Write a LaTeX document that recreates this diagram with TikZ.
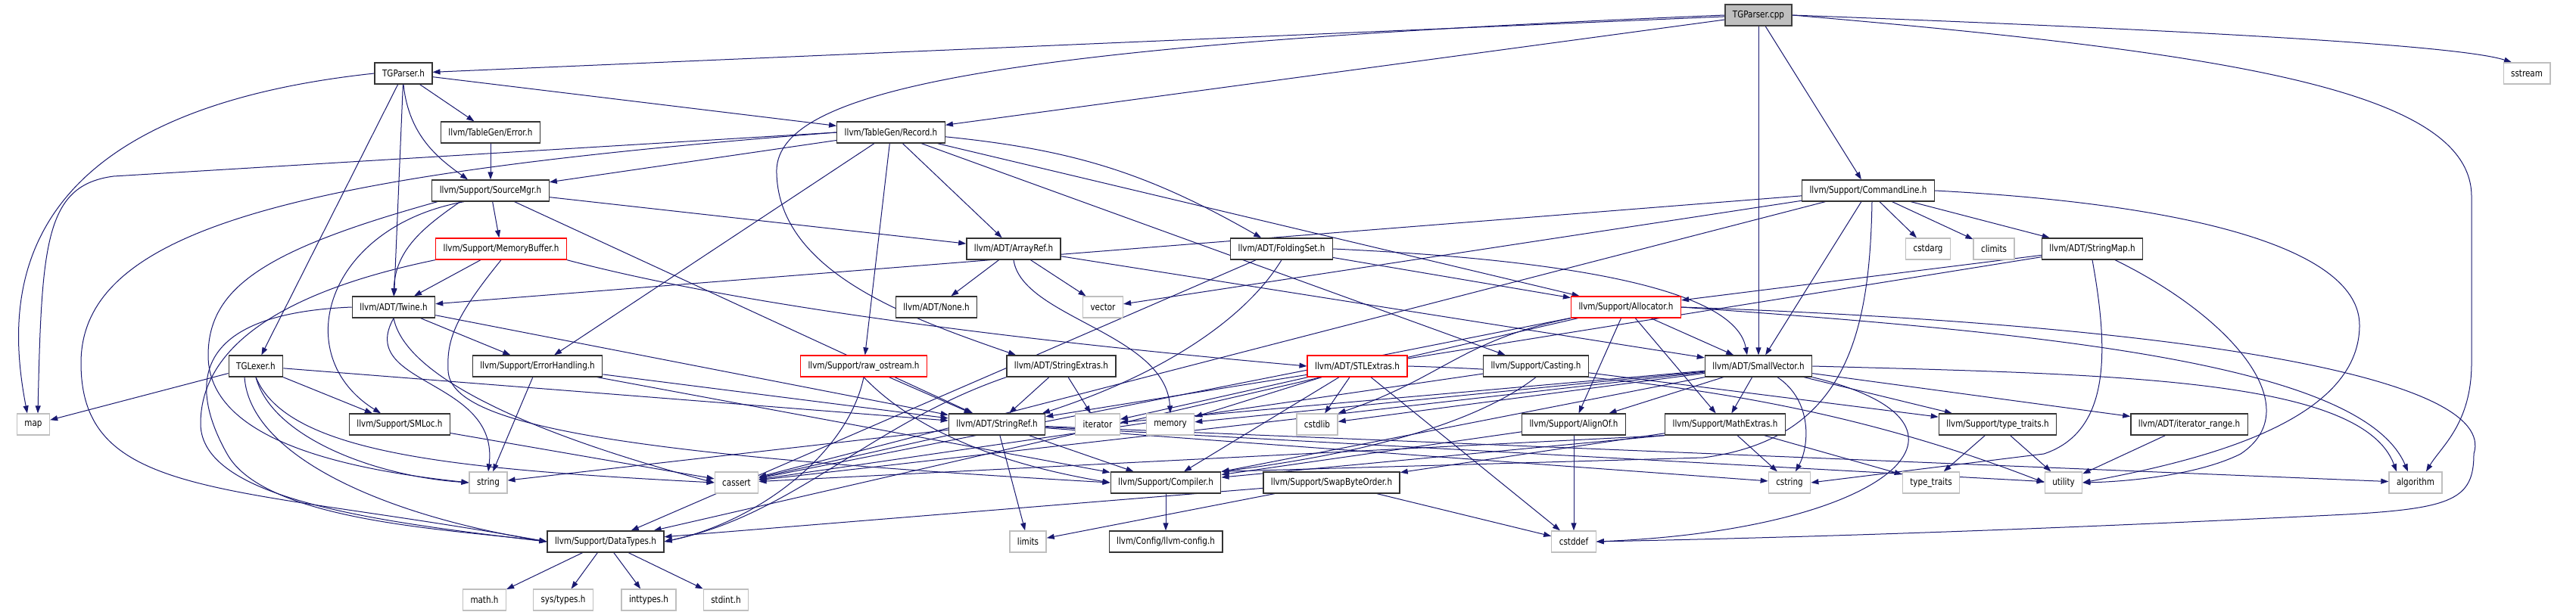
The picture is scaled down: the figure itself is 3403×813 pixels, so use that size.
\documentclass[tikz,border=0pt]{standalone}
\usepackage{fontspec}
\setmainfont{DejaVu Sans}[FakeStretch=0.83]
\usetikzlibrary{arrows.meta, backgrounds}
\definecolor{edge}{HTML}{191970}
\definecolor{sysframe}{HTML}{BFBFBF}
\definecolor{rootfill}{HTML}{BFBFBF}

\begin{document}
\begin{tikzpicture}[x=1pt, y=-1pt,
    every node/.style={font=\fontsize{12.5}{15}\selectfont, fill=white, inner xsep=10pt, inner ysep=0pt, minimum height=28pt, line width=1.3pt},
    hdr/.style={draw=black!80},
    sys/.style={draw=sysframe},
    trunc/.style={draw=red},
    root/.style={draw=black!75, fill=rootfill},
    dep/.style={-{Triangle[length=10pt, width=7pt]}, color=edge, line width=1pt}]
  % nodes, row by row
  \node[root] (cpp) at (2323,20) {TGParser.cpp};
  \node[hdr] (tgph) at (533,97) {TGParser.h};
  \node[sys] (sstream) at (3338,97) {sstream};
  \node[hdr] (err) at (648,175) {llvm/TableGen/Error.h};
  \node[hdr] (rec) at (1177,175) {llvm/TableGen/Record.h};
  \node[hdr] (smgr) at (648,252) {llvm/Support/SourceMgr.h};
  \node[hdr] (cl) at (2468,252) {llvm/Support/CommandLine.h};
  \node[trunc] (mbuf) at (662,329) {llvm/Support/MemoryBuffer.h};
  \node[hdr] (aref) at (1339,329) {llvm/ADT/ArrayRef.h};
  \node[hdr] (fset) at (1693,329) {llvm/ADT/FoldingSet.h};
  \node[sys] (cstdarg) at (2547,329) {cstdarg};
  \node[sys] (climits) at (2634,329) {climits};
  \node[hdr] (smap) at (2764,329) {llvm/ADT/StringMap.h};
  \node[hdr] (twine) at (520,406) {llvm/ADT/Twine.h};
  \node[hdr] (none) at (1237,406) {llvm/ADT/None.h};
  \node[sys] (vector) at (1457,406) {vector};
  \node[trunc] (alloc) at (2148,406) {llvm/Support/Allocator.h};
  \node[hdr] (lexer) at (338,484) {TGLexer.h};
  \node[hdr] (ehand) at (710,484) {llvm/Support/ErrorHandling.h};
  \node[trunc] (rawos) at (1141,484) {llvm/Support/raw\_ostream.h};
  \node[hdr] (sext) at (1402,484) {llvm/ADT/StringExtras.h};
  \node[trunc] (stlx) at (1793,484) {llvm/ADT/STLExtras.h};
  \node[hdr] (cast) at (2029,484) {llvm/Support/Casting.h};
  \node[hdr] (svec) at (2323,484) {llvm/ADT/SmallVector.h};
  \node[sys] (map) at (44,561) {map};
  \node[hdr] (smloc) at (528,561) {llvm/Support/SMLoc.h};
  \node[hdr] (sref) at (1317,561) {llvm/ADT/StringRef.h};
  \node[sys] (iter) at (1450,561) {iterator};
  \node[sys] (memory) at (1546,561) {memory};
  \node[sys] (cstdlib) at (1740,561) {cstdlib};
  \node[hdr] (alignof) at (2079,561) {llvm/Support/AlignOf.h};
  \node[hdr] (mathx) at (2279,561) {llvm/Support/MathExtras.h};
  \node[hdr] (ttraitsh) at (2639,561) {llvm/Support/type\_traits.h};
  \node[hdr] (irange) at (2892,561) {llvm/ADT/iterator\_range.h};
  \node[sys] (string) at (645,638) {string};
  \node[sys] (cassert) at (973,638) {cassert};
  \node[hdr] (compiler) at (1540,638) {llvm/Support/Compiler.h};
  \node[hdr] (swap) at (1759,638) {llvm/Support/SwapByteOrder.h};
  \node[sys] (cstring) at (2364,638) {cstring};
  \node[sys] (ttraits) at (2551,638) {type\_traits};
  \node[sys] (utility) at (2726,638) {utility};
  \node[sys] (algorithm) at (3191,638) {algorithm};
  \node[hdr] (dtypes) at (800,716) {llvm/Support/DataTypes.h};
  \node[sys] (limits) at (1358,716) {limits};
  \node[hdr] (config) at (1540,716) {llvm/Config/llvm-config.h};
  \node[sys] (cstddef) at (2079,716) {cstddef};
  \node[sys] (mathh) at (640,793) {math.h};
  \node[sys] (systypes) at (744,793) {sys/types.h};
  \node[sys] (inttypes) at (857,793) {inttypes.h};
  \node[sys] (stdint) at (959,793) {stdint.h};

  \begin{scope}[on background layer]
    \fill[white] (0,0) rectangle (3403,813);
    \useasboundingbox (0,0) rectangle (3403,813);
    % TGParser.cpp
    \draw[dep] (cpp) -- (tgph);
    \draw[dep] (cpp) -- (rec);
    \draw[dep] (cpp.west) .. controls (1300,60) and (1020,120) .. (1026,230) .. controls (1030,360) and (1200,420) .. ([xshift=-60]sext.north);
    \draw[dep] (cpp) -- (svec);
    \draw[dep] (cpp) -- (cl);
    \draw[dep] (cpp.east) .. controls (2900,40) and (3250,60) .. ([xshift=-20]sstream.north);
    \draw[dep] (cpp.east) .. controls (2950,70) and (3265,120) .. (3265,260) -- (3265,480) .. controls (3265,560) and (3225,590) .. ([xshift=14]algorithm.north);
    % TGParser.h
    \draw[dep] (tgph.west) .. controls (0,150) and (8,400) .. ([xshift=-8]map.north);
    \draw[dep] (tgph) -- (lexer);
    \draw[dep] (tgph) -- (twine);
    \draw[dep] (tgph.south) .. controls (540,180) and (580,210) .. ([xshift=-30]smgr.north);
    \draw[dep] (tgph) -- (err);
    \draw[dep] (tgph) -- (rec);
    \draw[dep] (err) -- (smgr);
    % Record.h
    \draw[dep] (rec.west) -- (150,233) .. controls (60,245) and (55,320) .. ([xshift=6]map.north);
    \draw[dep] (rec) -- (smgr);
    \draw[dep] (rec.west) .. controls (400,230) and (107,300) .. (107,480) .. controls (107,660) and (300,640) .. (dtypes.west);
    \draw[dep] (rec) -- (ehand);
    \draw[dep] (rec) -- (rawos);
    \draw[dep] (rec) -- (aref);
    \draw[dep] (rec) -- (cast);
    \draw[dep] (rec) to[bend left=12] (fset);
    \draw[dep] (rec) -- (alloc);
    % SourceMgr.h
    \draw[dep] (smgr) -- (aref);
    \draw[dep] (smgr) -- (sref);
    \draw[dep] ([xshift=-40]smgr.south) .. controls (560,300) and (522,330) .. (twine.north);
    \draw[dep] (smgr) -- (mbuf);
    \draw[dep] ([xshift=-35]smgr.south) .. controls (430,300) and (380,470) .. ([xshift=-25]smloc.north);
    \draw[dep] ([xshift=-70]smgr.south) .. controls (350,330) and (275,380) .. (275,470) .. controls (275,580) and (450,620) .. (string.west);
    % MemoryBuffer.h
    \draw[dep] (mbuf) -- (twine);
    \draw[dep] (mbuf.south west) .. controls (350,390) and (265,470) .. (265,560) .. controls (265,660) and (500,690) .. (dtypes.west);
    \draw[dep] (mbuf.south) .. controls (600,420) and (590,450) .. (592,490) .. controls (595,560) and (800,600) .. (compiler.west);
    \draw[dep] (mbuf.south east) .. controls (1000,410) and (1400,455) .. (stlx.west);
    % Twine.h
    \draw[dep] (twine.west) .. controls (240,415) and (255,520) .. (300,600) .. controls (350,690) and (600,700) .. (dtypes.west);
    \draw[dep] (twine.south) .. controls (470,510) and (660,500) .. (string.north);
    \draw[dep] (twine.south) .. controls (540,520) and (800,600) .. (cassert.west);
    \draw[dep] (twine) -- (ehand);
    \draw[dep] (twine) -- (sref);
    % TGLexer.h
    \draw[dep] (lexer) -- (map);
    \draw[dep] (lexer) -- (smloc);
    \draw[dep] (lexer.south) .. controls (360,580) and (500,630) .. (string.west);
    \draw[dep] ([xshift=-15]lexer.south) .. controls (330,600) and (500,680) .. (dtypes.west);
    \draw[dep] (lexer.south) .. controls (380,600) and (600,620) .. (cassert.west);
    \draw[dep] (lexer) -- (sref);
    % ErrorHandling.h
    \draw[dep] (ehand) -- (string);
    \draw[dep] (ehand) -- (sref);
    \draw[dep] (ehand) -- (compiler);
    \draw[dep] (smloc) -- (cassert);
    % raw_ostream.h
    \draw[dep] (rawos) -- (sref);
    \draw[dep] (rawos.south) .. controls (1200,560) and (1300,610) .. (compiler.west);
    \draw[dep] (rawos.south) .. controls (1120,600) and (1000,690) .. (dtypes.east);
    % StringExtras.h
    \draw[dep] (sext) -- (sref);
    \draw[dep] (sext) -- (iter);
    \draw[dep] (sext.south west) .. controls (1150,560) and (1050,680) .. (dtypes.east);
    % ArrayRef.h
    \draw[dep] (aref) -- (none);
    \draw[dep] (aref) -- (vector);
    \draw[dep] (aref) -- (svec);
    \draw[dep] (aref.south) .. controls (1350,420) and (1540,440) .. (memory.north);
    % FoldingSet.h
    \draw[dep] (fset.east) .. controls (2000,340) and (2290,370) .. ([xshift=-15]svec.north);
    \draw[dep] (fset.south) .. controls (1640,430) and (1520,500) .. ([xshift=60]sref.north);
    \draw[dep] (fset) -- (alloc);
    \draw[dep] (fset) -- (dtypes);
    % CommandLine.h
    \draw[dep] (cl) -- (vector);
    \draw[dep] (cl) -- (twine);
    \draw[dep] (cl) -- (cassert);
    \draw[dep] (cl) -- (svec);
    \draw[dep] ([xshift=5]cl.south) .. controls (2470,440) and (2440,580) .. (2250,605) -- (compiler.north east);
    \draw[dep] (cl) -- (cstdarg);
    \draw[dep] (cl) -- (climits);
    \draw[dep] (cl) -- (smap);
    \draw[dep] (cl.east) .. controls (2900,270) and (3117,330) .. (3117,430) .. controls (3117,560) and (2900,610) .. (utility.east);
    % StringMap.h
    \draw[dep] (smap) -- (sref);
    \draw[dep] (smap) -- (alloc);
    \draw[dep] (smap.south) .. controls (2785,460) and (2790,570) .. (2700,600) -- (cstring.east);
    \draw[dep] ([xshift=30]smap.south) .. controls (2950,420) and (3050,540) .. (2960,600) .. controls (2900,630) and (2800,637) .. (utility.east);
    % Allocator.h
    \draw[dep] (alloc) -- (svec);
    \draw[dep] (alloc) -- (alignof);
    \draw[dep] (alloc) -- (mathx);
    \draw[dep] (alloc.south west) .. controls (1930,450) and (1905,500) .. (cstdlib.north east);
    \draw[dep] (alloc) -- (dtypes);
    \draw[dep] (alloc) -- (cassert);
    \draw[dep] (alloc.east) .. controls (2700,440) and (3120,480) .. ([xshift=-10]algorithm.north);
    \draw[dep] (alloc.east) .. controls (2900,430) and (3300,500) .. (3268,600) .. controls (3268,660) and (3240,672) .. (3100,680) .. controls (2700,700) and (2400,710) .. (cstddef.east);
    % Casting.h
    \draw[dep] (cast) -- (cassert);
    \draw[dep] (cast.south) .. controls (1950,560) and (1800,600) .. (compiler.north east);
    \draw[dep] (cast) -- (ttraitsh);
    % STLExtras.h
    \draw[dep] (stlx) -- (cstdlib);
    \draw[dep] (stlx) -- (iter);
    \draw[dep] (stlx) -- (memory);
    \draw[dep] (stlx) -- (compiler);
    \draw[dep] (stlx) -- (cstddef);
    \draw[dep] (stlx.east) .. controls (2250,495) and (2500,560) .. (utility.west);
    % SmallVector.h
    \draw[dep] (svec) -- (iter);
    \draw[dep] (svec) -- (memory);
    \draw[dep] (svec) -- (cstdlib);
    \draw[dep] (svec) -- (cassert);
    \draw[dep] (svec.south west) -- (compiler);
    \draw[dep] (svec) -- (alignof);
    \draw[dep] (svec) -- (mathx);
    \draw[dep] ([xshift=25]svec.south) .. controls (2395,530) and (2390,590) .. ([xshift=8]cstring.north);
    \draw[dep] (svec) -- (ttraitsh);
    \draw[dep] (svec) -- (irange);
    \draw[dep] (svec.east) .. controls (2800,495) and (3120,500) .. ([xshift=-25]algorithm.north);
    \draw[dep] (svec.south east) .. controls (2650,560) and (2500,700) .. (cstddef.east);
    % StringRef.h
    \draw[dep] (sref) -- (string);
    \draw[dep] (sref) -- (cassert);
    \draw[dep] (sref) -- (limits);
    \draw[dep] (sref) -- (compiler);
    \draw[dep] (sref) -- (cstring);
    \draw[dep] (sref) -- (utility);
    \draw[dep] (sref) -- (algorithm);
    % AlignOf.h, MathExtras.h
    \draw[dep] (alignof) -- (cstddef);
    \draw[dep] (alignof) -- (compiler);
    \draw[dep] (mathx) -- (cstring);
    \draw[dep] (mathx) -- (ttraits);
    \draw[dep] (mathx) -- (swap);
    \draw[dep] (mathx.south west) -- (compiler);
    \draw[dep] (mathx.south west) -- (cassert);
    % leaves
    \draw[dep] (ttraitsh) -- (ttraits);
    \draw[dep] (ttraitsh) -- (utility);
    \draw[dep] (irange) -- (utility);
    \draw[dep] (compiler) -- (config);
    \draw[dep] (swap) -- (dtypes);
    \draw[dep] (swap) -- (limits);
    \draw[dep] (swap) -- (cstddef);
    \draw[dep] (dtypes) -- (mathh);
    \draw[dep] (dtypes) -- (systypes);
    \draw[dep] (dtypes) -- (inttypes);
    \draw[dep] (dtypes) -- (stdint);
  \end{scope}
\end{tikzpicture}
\end{document}
